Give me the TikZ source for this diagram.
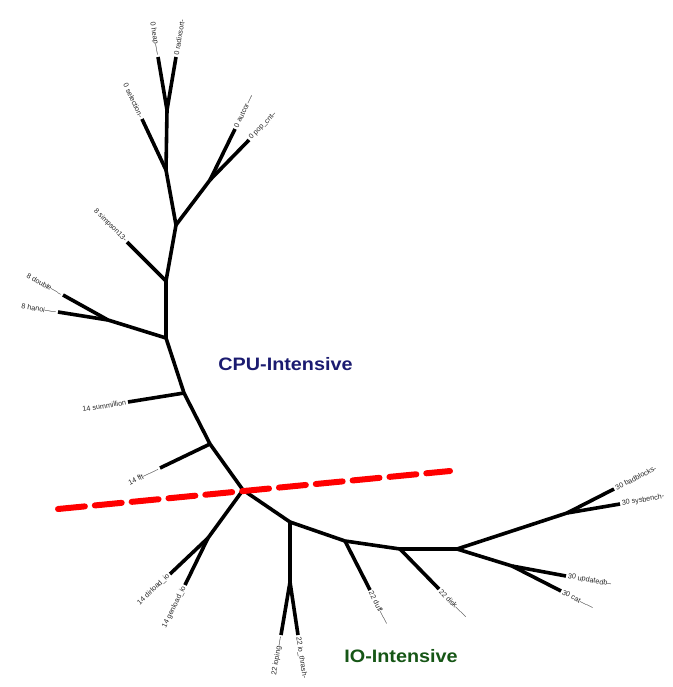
\documentclass[tikz,border=0pt]{standalone}
\usepackage{fontspec}
\setmainfont{Liberation Sans}
\newfontfamily\grpfont[FakeStretch=1.1]{Liberation Sans}
\definecolor{cpublue}{RGB}{27,27,112}
\definecolor{iogreen}{RGB}{22,86,22}
\begin{document}
\begin{tikzpicture}[x=1pt,y=-1pt,
  edge/.style={line width=3.6pt, black, line join=round},
  lab/.style={font=\fontsize{7.2}{8}\selectfont, text=black!85, inner sep=1.8pt},
  grp/.style={font=\grpfont\fontsize{18}{20}\selectfont\bfseries},
  cut/.style={red, line width=6pt, line cap=round, dash pattern=on 27pt off 10pt}]
\useasboundingbox (0,0) rectangle (672,687);
% internal nodes
\coordinate (R) at (243,490);
\coordinate (A) at (210,444);
\coordinate (B) at (184,393);
\coordinate (C) at (166,338);
\coordinate (D) at (166,281);
\coordinate (E) at (176,225);
\coordinate (F) at (166,170);
\coordinate (G) at (167,110);
\coordinate (H) at (108,320);
\coordinate (I) at (210,180);
\coordinate (K) at (208,538);
\coordinate (M) at (290,522);
\coordinate (N) at (290,582);
\coordinate (P) at (345,541);
\coordinate (Q) at (400,549);
\coordinate (S) at (457,549);
\coordinate (T) at (567,513);
\coordinate (U) at (512,566);
% leaves
\coordinate (Lheap) at (158,57);
\coordinate (Lradix) at (176,57);
\coordinate (Lsel) at (142,119);
\coordinate (Lauto) at (235,129);
\coordinate (Lpop) at (249,140);
\coordinate (Lsimp) at (127,242);
\coordinate (Ldbl) at (63,295);
\coordinate (Lhan) at (58,312);
\coordinate (Lsum) at (128,402);
\coordinate (Lfft) at (160,468);
\coordinate (Ldir) at (170,574);
\coordinate (Lgen) at (185,585);
\coordinate (Lping) at (281,635);
\coordinate (Lthr) at (298,635);
\coordinate (Lduff) at (370,590);
\coordinate (Ldisk) at (439,589);
\coordinate (Lbad) at (614,489);
\coordinate (Lsys) at (620,504);
\coordinate (Lupd) at (566,576);
\coordinate (Lcat) at (561,591);
% tree edges
\draw[edge] (R) -- (A) -- (B) -- (C) -- (D) -- (E) -- (F) -- (G);
\draw[edge] (G) -- (Lheap);
\draw[edge] (G) -- (Lradix);
\draw[edge] (F) -- (Lsel);
\draw[edge] (E) -- (I);
\draw[edge] (I) -- (Lauto);
\draw[edge] (I) -- (Lpop);
\draw[edge] (D) -- (Lsimp);
\draw[edge] (C) -- (H);
\draw[edge] (H) -- (Ldbl);
\draw[edge] (H) -- (Lhan);
\draw[edge] (B) -- (Lsum);
\draw[edge] (A) -- (Lfft);
\draw[edge] (R) -- (K);
\draw[edge] (K) -- (Ldir);
\draw[edge] (K) -- (Lgen);
\draw[edge] (R) -- (M) -- (N);
\draw[edge] (N) -- (Lping);
\draw[edge] (N) -- (Lthr);
\draw[edge] (M) -- (P) -- (Q) -- (S) -- (T);
\draw[edge] (P) -- (Lduff);
\draw[edge] (Q) -- (Ldisk);
\draw[edge] (T) -- (Lbad);
\draw[edge] (T) -- (Lsys);
\draw[edge] (S) -- (U);
\draw[edge] (U) -- (Lupd);
\draw[edge] (U) -- (Lcat);
% leaf labels
\node[lab, anchor=east, rotate=-80.4] (tHeap) at (Lheap) {0 heap-----};
\node[lab, anchor=west, rotate=80.4] (tRadix) at (Lradix) {0 radixsort-};
\node[lab, anchor=east, rotate=-64.8] (tSel) at (Lsel) {0 selection-};
\node[lab, anchor=west, rotate=63.9] (tAuto) at (Lauto) {0 autcor----};
\node[lab, anchor=west, rotate=45.7] (tPop) at (Lpop) {0 pop\_cnt--};
\node[lab, anchor=east, rotate=-45] (tSimp) at (Lsimp) {8 simpson13-};
\node[lab, anchor=east, rotate=-29] (tDbl) at (Ldbl) {8 double-----};
\node[lab, anchor=east, rotate=-9.1] (tHan) at (Lhan) {8 hanoi-----};
\node[lab, anchor=east, rotate=9.1] (tSum) at (Lsum) {14 summillion};
\node[lab, anchor=east, rotate=25.6] (tFft) at (Lfft) {14 fft-------};
\node[lab, anchor=east, rotate=43.5] (tDir) at (Ldir) {14 dirload\_io};
\node[lab, anchor=east, rotate=63.9] (tGen) at (Lgen) {14 genload\_io};
\node[lab, anchor=east, rotate=80.4] (tPing) at (Lping) {22 ioping----};
\node[lab, anchor=west, rotate=-81.4] (tThr) at (Lthr) {22 io\_thrash-};
\node[lab, anchor=west, rotate=-63] (tDuff) at (Lduff) {22 duff------};
\node[lab, anchor=west, rotate=-45.7] (tDisk) at (Ldisk) {22 disk------};
\node[lab, anchor=west, rotate=27] (tBad) at (Lbad) {30 badblocks-};
\node[lab, anchor=west, rotate=9.6] (tSys) at (Lsys) {30 sysbench-};
\node[lab, anchor=west, rotate=-10.5] (tUpd) at (Lupd) {30 updatedb--};
\node[lab, anchor=west, rotate=-27] (tCat) at (Lcat) {30 cat------};
% cut line
\coordinate (cutA) at (58,509);
\coordinate (cutB) at (450,471);
\draw[cut] (cutA) -- (cutB);
% group labels
\node[grp, text=cpublue] (cpu) at (285.5,364) {CPU-Intensive};
\node[grp, text=iogreen] (io) at (401,656) {IO-Intensive};
\end{tikzpicture}
\end{document}
